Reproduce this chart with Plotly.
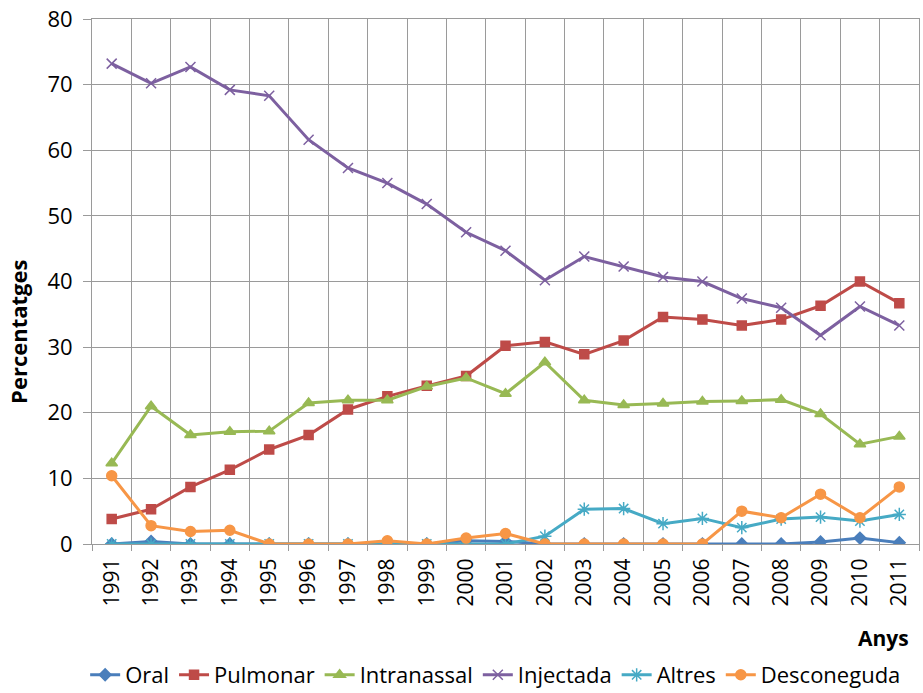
import plotly.graph_objects as go

years = list(range(1991, 2012))
year_labels = [str(y) for y in years]

oral = [0, 0.4, 0, 0, 0, 0, 0, 0, 0, 0.5, 0.4, 0, 0, 0, 0, 0, 0, 0, 0.3, 0.9, 0.2]
pulmonar = [3.8, 5.3, 8.7, 11.3, 14.4, 16.6, 20.5, 22.5, 24.1, 25.6, 30.2, 30.8, 28.9, 31.0, 34.6, 34.2, 33.3, 34.2, 36.3, 40.0, 36.7]
intranassal = [12.3, 21.0, 16.6, 17.1, 17.2, 21.5, 21.9, 21.9, 24.0, 25.3, 22.9, 27.7, 21.9, 21.2, 21.4, 21.7, 21.8, 22.0, 19.8, 15.2, 16.4]
injectada = [73.2, 70.2, 72.7, 69.2, 68.3, 61.6, 57.3, 55.0, 51.8, 47.5, 44.7, 40.2, 43.8, 42.3, 40.7, 40.0, 37.4, 36.0, 31.8, 36.2, 33.3]
altres = [0, 0, 0, 0, 0, 0, 0, 0, 0, 0, 0, 1.2, 5.3, 5.4, 3.1, 3.9, 2.5, 3.8, 4.1, 3.5, 4.5]
desconeguda = [10.4, 2.8, 1.9, 2.1, 0, 0, 0, 0.5, 0, 0.9, 1.6, 0, 0, 0, 0, 0, 5.0, 4.0, 7.6, 4.0, 8.7]

series = [
    ("Oral", oral, "#4A7EBB", "diamond", 9),
    ("Pulmonar", pulmonar, "#BE4B48", "square", 9),
    ("Intranassal", intranassal, "#98B954", "triangle-up", 10),
    ("Injectada", injectada, "#7D60A0", "x-thin-open", 10),
    ("Altres", altres, "#46AAC5", "asterisk-open", 11),
    ("Desconeguda", desconeguda, "#F79646", "circle", 10),
]

FONT = "Open Sans"
fig = go.Figure()
for name, vals, color, sym, size in series:
    fig.add_trace(go.Scatter(
        x=years, y=vals, name=name, mode="lines+markers",
        line=dict(color=color, width=3),
        marker=dict(symbol=sym, size=size, color=color,
                    line=dict(color=color, width=1.5)),
    ))

grid = "#9A9A9A"
boundaries = [y - 0.5 for y in years] + [years[-1] + 0.5]

fig.update_layout(
    width=923, height=693,
    margin=dict(l=92, r=4, t=19, b=149, autoexpand=False),
    plot_bgcolor="white", paper_bgcolor="white",
    font=dict(family=FONT, size=22, color="black"),
    showlegend=True,
    legend=dict(orientation="h", xref="container", yref="container",
                x=0.537, y=0.026, xanchor="center", yanchor="middle",
                font=dict(family=FONT, size=22), itemwidth=30,
                tracegroupgap=0, bgcolor="rgba(0,0,0,0)"),
    xaxis=dict(
        range=[years[0] - 0.5, years[-1] + 0.5],
        tickmode="array", tickvals=years, ticktext=year_labels,
        tickangle=-90, ticks="", showgrid=False, automargin=False,
        showline=True, linecolor=grid, linewidth=1, mirror=True,
        tickfont=dict(family=FONT, size=21), ticklabelstandoff=5,
        minor=dict(tickmode="array", tickvals=boundaries, ticks="outside",
                   ticklen=6, tickcolor=grid, showgrid=True,
                   gridcolor=grid, gridwidth=1),
        zeroline=False,
    ),
    yaxis=dict(
        range=[0, 80], dtick=10, tick0=0, automargin=False,
        ticks="outside", ticklen=8, tickcolor=grid,
        showgrid=True, gridcolor=grid, gridwidth=1,
        showline=True, linecolor=grid, linewidth=1, mirror=True,
        tickfont=dict(family=FONT, size=22), ticklabelstandoff=6,
        zeroline=False,
    ),
    annotations=[
        dict(text="<b>Percentatges</b>", textangle=-90, xref="paper", yref="paper",
             x=-0.0895, y=0.404, xanchor="center", yanchor="middle",
             showarrow=False, font=dict(family=FONT, size=22)),
        dict(text="<b>Anys</b>", xref="paper", yref="paper",
             x=0.99, y=-0.179, xanchor="right", yanchor="middle",
             showarrow=False, font=dict(family=FONT, size=21)),
    ],
)

fig.write_html("out.html",
               config={"displayModeBar": False},
               post_script="document.body.style.margin='0';document.body.style.overflow='hidden';")
